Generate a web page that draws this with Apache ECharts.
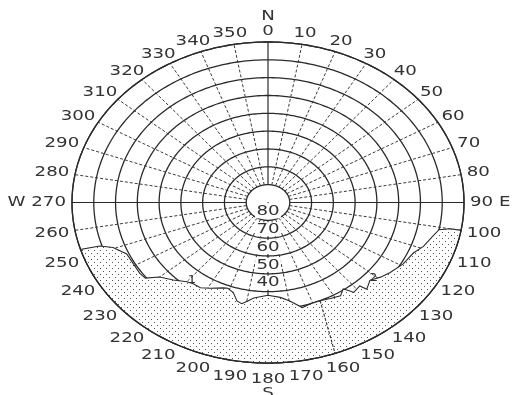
<!DOCTYPE html>
<html>
<head>
<meta charset="utf-8">
<script src="https://cdn.jsdelivr.net/npm/echarts@6/dist/echarts.min.js"></script>
<style>
  html, body { margin: 0; padding: 0; background: #fff; }
  #chart { width: 515px; height: 395px; }
</style>
</head>
<body>
<div id="chart"></div>
<script>
// Elevation rings (degrees above the horizon) and azimuth spokes (degrees from north, clockwise)
const ringElevations = [0, 10, 20, 30, 40, 50, 60, 70, 80];
const spokeAzimuths = [0, 10, 20, 30, 40, 50, 60, 70, 80, 90, 100, 110, 120, 130, 140, 150, 160, 170,
                       180, 190, 200, 210, 220, 230, 240, 250, 260, 270, 280, 290, 300, 310, 320, 330, 340, 350];
const azimuthTickLabels = ['0', '10', '20', '30', '40', '50', '60', '70', '80', '90', '100', '110', '120', '130',
                           '140', '150', '160', '170', '180', '190', '200', '210', '220', '230', '240', '250',
                           '260', '270', '280', '290', '300', '310', '320', '330', '340', '350'];
const compassAzimuths = [0, 90, 180, 270];
const compassLetters = ['N', 'E', 'S', 'W'];
const elevationTickValues = [80, 70, 60, 50, 40];
const elevationTickLabels = ['80', '70', '60', '50', '40'];

// Skyline obstruction profile: azimuth and elevation of the horizon
const horizonAz = [100, 100, 101, 104, 109, 113, 119, 125, 129, 133, 137, 138, 142, 143, 144.5, 147.5, 152,
                   156.5, 161, 165, 170, 174, 180, 187, 189.5, 192, 194.5, 197.5, 201, 203, 209, 213, 217,
                   220, 225, 230, 233, 236, 246, 250.5, 252.5, 253];
const horizonEl = [0, 5, 10, 12, 14.5, 17.5, 19, 21.5, 23.5, 26, 23.5, 27, 26, 28, 30.5, 28, 29,
                   30, 30, 29, 34, 36.5, 38, 36, 34, 32, 33, 37, 38.5, 38, 35, 33, 33,
                   32, 28.5, 25, 19.5, 19, 19, 14.5, 9, 0];

// Single pole standing in front of the skyline
const poleAz = [156.5, 160];
const poleEl = [30, 0];

// Numbered points on the skyline
const markerText = ['1', '2'];
const markerAz = [218.6, 131.5];
const markerEl = [34, 25.6];

// Sky-dome projection: zenith at the centre, horizon on the outer ring
function toXY(az, el) {
  const r = (90 - el) / 90;
  const a = az * Math.PI / 180;
  return [r * Math.sin(a), r * Math.cos(a)];
}

const FONT_FAMILY = '"DejaVu Sans", sans-serif';
const FONT_SIZE = 14;
const SCALE_X = 1.3;
const TEXT_COLOR = '#333';
const measureCtx = document.createElement('canvas').getContext('2d');
function textWidth(t, size) {
  measureCtx.font = size + 'px ' + FONT_FAMILY;
  return measureCtx.measureText(t).width * SCALE_X;
}

// Stipple tile for the obstructed area
const tile = document.createElement('canvas');
tile.width = 6; tile.height = 6;
(function () {
  const c = tile.getContext('2d');
  c.fillStyle = '#fff'; c.fillRect(0, 0, 6, 6);
  c.fillStyle = '#555';
  c.fillRect(1, 1, 1, 1);
  c.fillRect(4, 4, 1, 1);
})();

function textEl(x, y, t, size, extra) {
  return {
    type: 'text', x: x, y: y, scaleX: SCALE_X, scaleY: 1,
    style: Object.assign({
      text: t, font: size + 'px ' + FONT_FAMILY, fill: TEXT_COLOR,
      align: 'center', verticalAlign: 'middle'
    }, extra || {})
  };
}

const chart = echarts.init(document.getElementById('chart'), null, { renderer: 'canvas' });

const option = {
  animation: false,
  backgroundColor: '#fff',
  grid: { left: 72, top: 42, width: 392, height: 321, containLabel: false },
  xAxis: { type: 'value', min: -1, max: 1, show: false },
  yAxis: { type: 'value', min: -1, max: 1, show: false },
  series: [
    {
      // elevation rings
      type: 'custom', z: 1, silent: true,
      data: ringElevations.map(e => [e]),
      renderItem: function (params, api) {
        const el = ringElevations[params.dataIndex];
        const pts = [];
        for (let az = 0; az <= 360; az += 1) pts.push(api.coord(toXY(az, el)));
        return { type: 'polyline', shape: { points: pts },
                 style: { stroke: '#2a2a2a', lineWidth: 1.3, fill: null } };
      }
    },
    {
      // azimuth spokes
      type: 'custom', z: 1, silent: true,
      data: spokeAzimuths.map(a => [a]),
      renderItem: function (params, api) {
        const az = spokeAzimuths[params.dataIndex];
        const cardinal = compassAzimuths.indexOf(az) >= 0;
        const p1 = api.coord(toXY(az, 80)), p2 = api.coord(toXY(az, 0));
        return {
          type: 'line',
          shape: { x1: p1[0], y1: p1[1], x2: p2[0], y2: p2[1] },
          style: { stroke: cardinal ? '#2a2a2a' : '#3a3a3a', lineWidth: cardinal ? 1.2 : 1,
                   lineDash: cardinal ? null : [3, 2] }
        };
      }
    },
    {
      // obstructed area between skyline and horizon
      type: 'custom', z: 2, silent: true,
      data: [[0]],
      renderItem: function (params, api) {
        const pts = [];
        for (let i = 0; i < horizonAz.length; i++) pts.push(api.coord(toXY(horizonAz[i], horizonEl[i])));
        const last = horizonAz[horizonAz.length - 1];
        for (let az = last; az >= horizonAz[0]; az -= 1) pts.push(api.coord(toXY(az, 0)));
        return { type: 'polygon', shape: { points: pts },
                 style: { fill: { image: tile, repeat: 'repeat' }, stroke: '#2a2a2a', lineWidth: 1.1 } };
      }
    },
    {
      // outer horizon ring on top of the stipple, plus the pole
      type: 'custom', z: 3, silent: true,
      data: [[0]],
      renderItem: function (params, api) {
        const pts = [];
        for (let az = 0; az <= 360; az += 1) pts.push(api.coord(toXY(az, 0)));
        const pole = [];
        for (let i = 0; i < poleAz.length; i++) pole.push(api.coord(toXY(poleAz[i], poleEl[i])));
        const center = api.coord([0, 0]);
        return { type: 'group', children: [
          { type: 'polyline', shape: { points: pts }, style: { stroke: '#2a2a2a', lineWidth: 1.3, fill: null } },
          { type: 'polyline', shape: { points: pole }, style: { stroke: '#333', lineWidth: 1.1, lineDash: [3, 1.5], fill: null } },
          { type: 'rect', shape: { x: center[0] - 0.5, y: center[1] - 0.5, width: 1.2, height: 1.2 }, style: { fill: '#555' } }
        ] };
      }
    },
    {
      // azimuth labels round the outside, elevation labels down the south spoke, skyline markers
      type: 'custom', z: 4, silent: true,
      data: [[0]],
      renderItem: function (params, api) {
        const children = [];
        const gap = 6, h = 10;
        for (let i = 0; i < spokeAzimuths.length; i++) {
          const az = spokeAzimuths[i];
          const ci = compassAzimuths.indexOf(az);
          let t = azimuthTickLabels[i];
          if (ci === 1) t = t + ' ' + compassLetters[ci];
          if (ci === 3) t = compassLetters[ci] + ' ' + t;
          const a = az * Math.PI / 180, s = Math.sin(a), c = Math.cos(a);
          const P = api.coord(toXY(az, 0));
          const w = textWidth(t, FONT_SIZE);
          const x = P[0] + s * (gap + w / 2);
          const y = P[1] - c * (gap + h / 2) + Math.max(0, -c) * 5.5;
          children.push(textEl(x, y, t, FONT_SIZE));
          if (ci === 0) children.push(textEl(x, y - 15, compassLetters[ci], FONT_SIZE));
          if (ci === 2) children.push(textEl(x, y + 14, compassLetters[ci], FONT_SIZE));
        }
        for (let i = 0; i < elevationTickValues.length; i++) {
          const p = api.coord(toXY(180, elevationTickValues[i] + 5));
          children.push(textEl(p[0], p[1], elevationTickLabels[i], FONT_SIZE,
                               { backgroundColor: '#fff', padding: [0, 1, 0, 1] }));
        }
        for (let i = 0; i < markerText.length; i++) {
          const p = api.coord(toXY(markerAz[i], markerEl[i]));
          children.push(textEl(p[0], p[1], markerText[i], 10));
        }
        return { type: 'group', children: children };
      }
    }
  ]
};

chart.setOption(option);
</script>
</body>
</html>
